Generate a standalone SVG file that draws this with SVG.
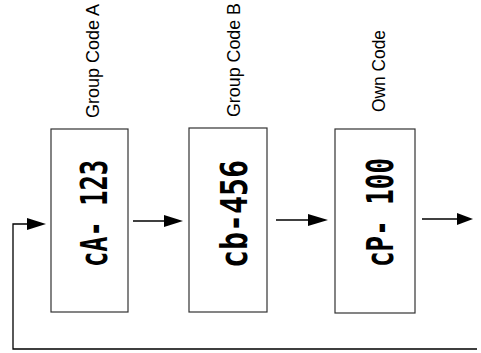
<svg xmlns="http://www.w3.org/2000/svg" width="481" height="353" viewBox="0 0 481 353">
<style>
.box{fill:#fff;stroke:#333;stroke-width:1.2}
.lbl{font-family:"Liberation Sans",Arial,sans-serif;font-size:17.5px;fill:#000}
.seg{font-family:"DejaVu Sans Mono",monospace;font-weight:bold;font-size:38px;fill:#000}
.ln{stroke:#000;stroke-width:1.3;fill:none}
.ah{fill:#000}
</style>
<rect width="481" height="353" fill="#fff"/>
<g id="nodeA">
<rect class="box" x="51" y="129" width="77" height="183"/>
<text class="seg" transform="translate(107,267) rotate(-90)" textLength="107" lengthAdjust="spacingAndGlyphs">cA- 123</text>
<text class="lbl" transform="translate(99,118) rotate(-90)" textLength="114" lengthAdjust="spacingAndGlyphs">Group Code A</text>
</g>
<g id="nodeB">
<rect class="box" x="189" y="128" width="78" height="184"/>
<text class="seg" transform="translate(247,268) rotate(-90)" textLength="108" lengthAdjust="spacingAndGlyphs">cb-456</text>
<text class="lbl" transform="translate(240,117) rotate(-90)" textLength="114" lengthAdjust="spacingAndGlyphs">Group Code B</text>
</g>
<g id="nodeC">
<rect class="box" x="335" y="129" width="80" height="184"/>
<text class="seg" transform="translate(393,267) rotate(-90)" textLength="109" lengthAdjust="spacingAndGlyphs">cP- 100</text>
<text class="lbl" transform="translate(385,112) rotate(-90)" textLength="82" lengthAdjust="spacingAndGlyphs">Own Code</text>
</g>
<g id="connectors">
<line class="ln" x1="133" y1="221" x2="166" y2="221"/>
<polygon class="ah" points="164,215 183,221 164,227"/>
<line class="ln" x1="276" y1="220" x2="310" y2="220"/>
<polygon class="ah" points="308,214 328,220 308,226"/>
<line class="ln" x1="422" y1="219" x2="459" y2="219"/>
<polygon class="ah" points="457,213 473,219 457,225"/>
<polyline class="ln" points="477,349 13,349 13,224 30,224"/>
<polygon class="ah" points="27,218 46,224 27,230"/>
</g>
</svg>
